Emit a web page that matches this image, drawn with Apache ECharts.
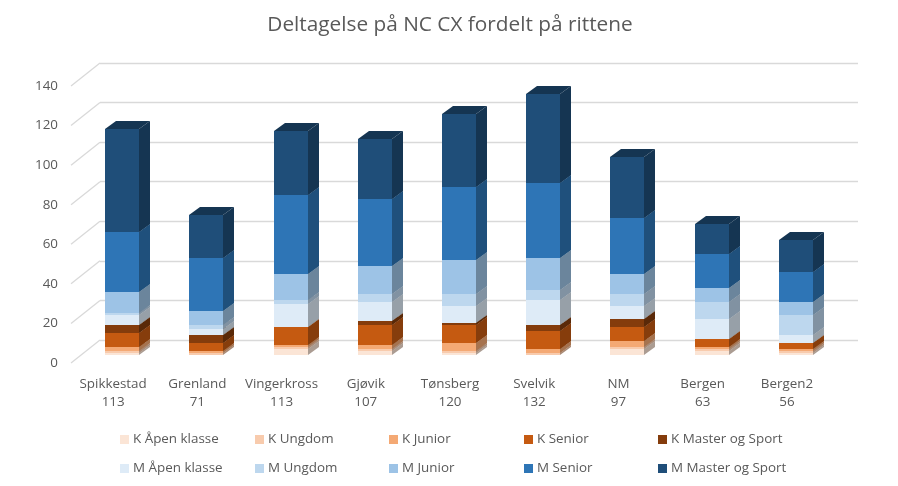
<!DOCTYPE html>
<html>
<head>
<meta charset="utf-8">
<title>Deltagelse på NC CX</title>
<script src="https://cdn.jsdelivr.net/npm/echarts@6/dist/echarts.min.js"></script>
<style>
    html, body { margin: 0; background: #fff; }
    #chart { width: 898px; height: 486px; }
</style>
</head>
<body>
<div id="chart"></div>
<script>
const categories = ['Spikkestad', 'Grenland', 'Vingerkross', 'Gjøvik', 'Tønsberg', 'Svelvik', 'NM', 'Bergen', 'Bergen2'];
const totals = [113, 71, 113, 107, 120, 132, 97, 63, 56];
const yTicks = [0, 20, 40, 60, 80, 100, 120, 140];

const kAapen = [1, 0, 3, 2, 1, 0, 3, 2, 1];
const kUngdom = [1, 1, 1, 1, 1, 1, 1, 1, 1];
const kJunior = [2, 1, 1, 2, 4, 2, 3, 1, 1];
const kSenior = [7, 4, 9, 10, 9, 9, 7, 4, 3];
const kMaster = [4, 4, 0, 2, 1, 3, 4, 0, 0];
const mAapen = [5, 3, 12, 10, 9, 13, 7, 10, 4];
const mUngdom = [1, 2, 2, 4, 6, 5, 6, 9, 10];
const mJunior = [11, 7, 13, 14, 17, 16, 10, 7, 7];
const mSenior = [30, 27, 40, 34, 37, 38, 28, 17, 15];
const mMaster = [52, 22, 32, 30, 37, 45, 31, 15, 16];

const seriesNames = ['K Åpen klasse', 'K Ungdom', 'K Junior', 'K Senior', 'K Master og Sport',
    'M Åpen klasse', 'M Ungdom', 'M Junior', 'M Senior', 'M Master og Sport'];
const seriesValues = [kAapen, kUngdom, kJunior, kSenior, kMaster, mAapen, mUngdom, mJunior, mSenior, mMaster];
const seriesColors = ['#fbe5d6', '#f8cbad', '#f4a974', '#c55a11', '#843c0c',
    '#deebf7', '#bdd7ee', '#9dc3e6', '#2e75b6', '#1f4e79'];

const FONT = '"Open Sans", sans-serif';
const TEXT = '#595959';
const WALL_X = 29, WALL_Y = 23;   // depth of the floor
const BAR_X = 9, BAR_Y = 8;       // bar front face, seen from the front plane
const BAR_DX = 11, BAR_DY = 8;    // bar depth
const BAR_W = 34;

function darken(hex, f) {
    const n = parseInt(hex.slice(1), 16);
    const c = [n >> 16, (n >> 8) & 255, n & 255].map(v => Math.round(v * f));
    return 'rgb(' + c.join(',') + ')';
}

// one stacked block: front face, side face and top face
function renderBlock(color) {
    return function (params, api) {
        const base = api.coord([api.value(0), api.value(1)]);
        const top = api.coord([api.value(0), api.value(2)]);
        if (api.value(2) <= api.value(1)) return null;
        const x0 = Math.round(base[0] + BAR_X - BAR_W / 2), x1 = x0 + BAR_W;
        // whole pixels, otherwise the gridlines show through the seams
        const y0 = Math.round(base[1] - BAR_Y), y1 = Math.round(top[1] - BAR_Y);
        const dark = darken(color, 0.68);
        return {
            type: 'group',
            children: [
                { type: 'rect', shape: { x: x0, y: y1, width: BAR_W, height: y0 - y1 }, style: { fill: color } },
                { type: 'polygon', shape: { points: [[x1, y0], [x1 + BAR_DX, y0 - BAR_DY], [x1 + BAR_DX, y1 - BAR_DY], [x1, y1]] }, style: { fill: dark } },
                { type: 'polygon', shape: { points: [[x0, y1], [x1, y1], [x1 + BAR_DX, y1 - BAR_DY], [x0 + BAR_DX, y1 - BAR_DY]] }, style: { fill: dark } }
            ]
        };
    };
}

function renderDiagonal(params, api) {
    const p = api.coord([0, api.value(0)]);
    const x = params.coordSys.x;
    return {
        type: 'line',
        shape: { x1: x, y1: p[1], x2: x + WALL_X, y2: p[1] - WALL_Y },
        style: { stroke: '#d9d9d9', lineWidth: 1.3 }
    };
}

const running = categories.map(() => 0);
const blockSeries = seriesNames.map((name, s) => ({
    name: name,
    type: 'custom',
    xAxisIndex: 0,
    yAxisIndex: 0,
    itemStyle: { color: seriesColors[s] },
    renderItem: renderBlock(seriesColors[s]),
    data: categories.map((c, i) => {
        const from = running[i];
        running[i] += seriesValues[s][i];
        return [i, from, running[i]];
    })
}));

const legendX = [120, 255, 389, 524, 658];
const legendY = [433, 462];
const legends = seriesNames.map((name, s) => ({
    data: [name],
    left: legendX[s % 5],
    top: legendY[Math.floor(s / 5)],
    icon: 'rect',
    itemWidth: 9,
    itemHeight: 9,
    itemGap: 0,
    padding: 0,
    selectedMode: false,
    textStyle: { color: TEXT, fontFamily: FONT, fontSize: 13.4, padding: [0, 0, 0, -1] }
}));

const chart = echarts.init(document.getElementById('chart'), null, { renderer: 'canvas' });
chart.setOption({
    animation: false,
    title: {
        text: 'Deltagelse på NC CX fordelt på rittene',
        left: 445,
        textAlign: 'center',
        top: 10,
        textStyle: { color: TEXT, fontFamily: FONT, fontSize: 20.8, fontWeight: 'normal' }
    },
    legend: legends,
    grid: [
        { left: 71, top: 86, width: 758, height: 277 },   // front plane
        { left: 100, top: 63, width: 758, height: 277 }   // back wall
    ],
    xAxis: [
        {
            type: 'category',
            gridIndex: 0,
            data: categories,
            axisLine: { show: false },
            axisTick: { show: false },
            axisLabel: {
                interval: 0,
                margin: 12,
                color: TEXT,
                fontFamily: FONT,
                fontSize: 13.4,
                lineHeight: 18,
                formatter: (value, i) => value + '\n' + totals[i]
            }
        },
        { type: 'category', gridIndex: 1, data: categories, show: false }
    ],
    yAxis: [
        {
            type: 'value',
            gridIndex: 0,
            min: 0,
            max: 140,
            interval: 20,
            splitLine: { show: false },
            axisLine: { show: false },
            axisTick: { show: false },
            axisLabel: { margin: 13, color: TEXT, fontFamily: FONT, fontSize: 13.4, padding: [0, 0, 1, 0] }
        },
        {
            type: 'value',
            gridIndex: 1,
            min: 0,
            max: 140,
            interval: 20,
            axisLine: { show: false },
            axisTick: { show: false },
            axisLabel: { show: false },
            splitLine: { lineStyle: { color: '#d9d9d9', width: 1.3 } }
        }
    ],
    series: [
        {
            type: 'custom',
            xAxisIndex: 0,
            yAxisIndex: 0,
            silent: true,
            renderItem: renderDiagonal,
            data: yTicks.map(v => [v])
        }
    ].concat(blockSeries)
});
</script>
</body>
</html>
